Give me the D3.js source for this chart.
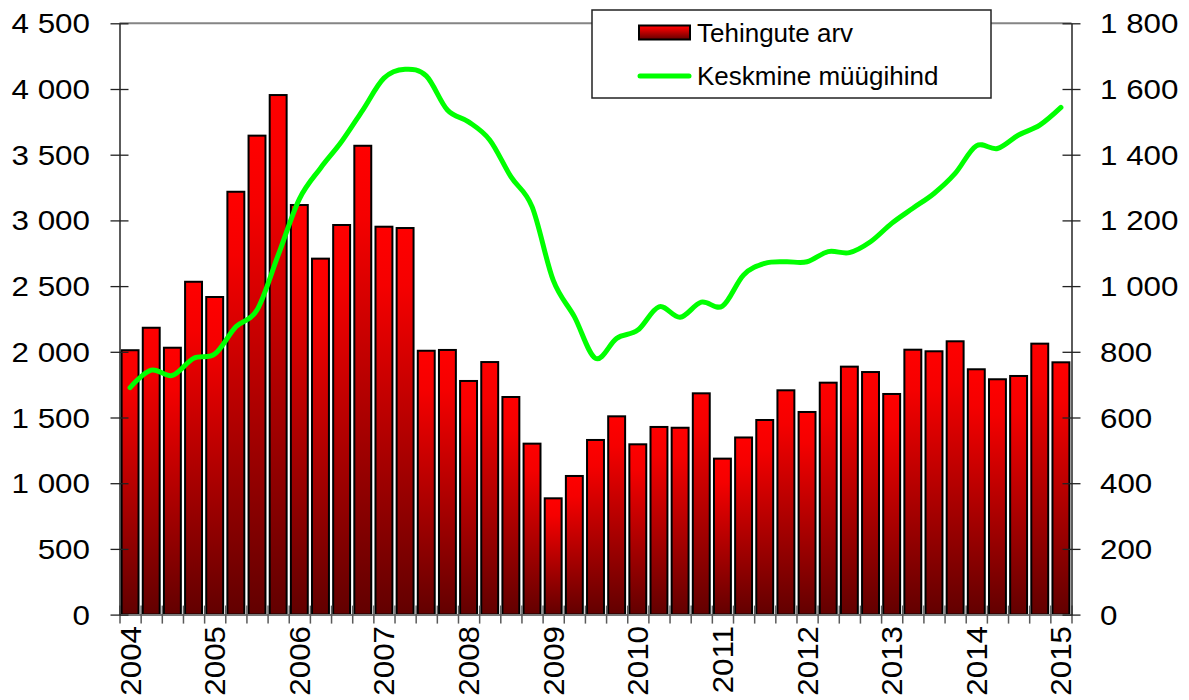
<!DOCTYPE html>
<html><head><meta charset="utf-8">
<script src="https://cdn.jsdelivr.net/npm/d3@7/dist/d3.min.js"></script>
<style>body{margin:0;background:#fff}svg{display:block}text{font-family:"Liberation Sans",Arial,sans-serif;fill:#000}</style>
</head><body><svg id="c" width="1189" height="700"></svg>
<script>
const categories = ["2004Q1","2004Q2","2004Q3","2004Q4","2005Q1","2005Q2","2005Q3","2005Q4",
  "2006Q1","2006Q2","2006Q3","2006Q4","2007Q1","2007Q2","2007Q3","2007Q4",
  "2008Q1","2008Q2","2008Q3","2008Q4","2009Q1","2009Q2","2009Q3","2009Q4",
  "2010Q1","2010Q2","2010Q3","2010Q4","2011Q1","2011Q2","2011Q3","2011Q4",
  "2012Q1","2012Q2","2012Q3","2012Q4","2013Q1","2013Q2","2013Q3","2013Q4",
  "2014Q1","2014Q2","2014Q3","2014Q4","2015Q1"];
const transactions = [2012,2183,2031,2533,2417,3218,3645,3954,3117,2709,2965,3568,2952,2942,2008,2014,
  1778,1922,1656,1301,885,1055,1329,1509,1296,1428,1422,1684,1187,1348,1481,1707,
  1542,1765,1887,1846,1679,2016,2004,2080,1867,1791,1816,2062,1920];
const avgPrice = [691,744,728,780,793,876,927,1094,1265,1359,1440,1536,1633,1660,1640,1536,
  1500,1445,1333,1242,1018,907,780,841,866,937,905,951,939,1034,1069,1074,
  1074,1105,1102,1135,1191,1237,1282,1343,1427,1419,1460,1490,1544];
const yLeftTicks = [0,500,1000,1500,2000,2500,3000,3500,4000,4500];
const yRightTicks = [0,200,400,600,800,1000,1200,1400,1600,1800];
const yearLabels = ["2004","2005","2006","2007","2008","2009","2010","2011","2012","2013","2014","2015"];
const yearTickCats = ["2004Q1","2005Q1","2006Q1","2007Q1","2008Q1","2009Q1","2010Q1","2011Q1","2012Q1","2013Q1","2014Q1","2015Q1"];
const seriesNames = ["Tehingute arv","Keskmine müügihind"];

const svg = d3.select("#c");
const L = 119.5, R = 1071.5, T = 23.3, B = 614.6;

const x = d3.scaleBand().domain(categories).range([L, R]).padding(0);
const xIdx = d3.scaleLinear().domain([0, categories.length]).range([L, R]);
const yL = d3.scaleLinear().domain([0, 4500]).range([B, T]);
const yR = d3.scaleLinear().domain([0, 1800]).range([B, T]);
const fmt = v => d3.format(",")(v).replace(/,/g, " ");

const defs = svg.append("defs");
const g = defs.append("linearGradient").attr("id", "barGrad")
  .attr("x1", 0).attr("y1", 0).attr("x2", 0).attr("y2", 1);
g.append("stop").attr("offset", 0).attr("stop-color", "#ff0000");
g.append("stop").attr("offset", 0.15).attr("stop-color", "#f50000");
g.append("stop").attr("offset", 1).attr("stop-color", "#620000");

// top border
svg.append("line").attr("x1", L).attr("x2", R).attr("y1", T).attr("y2", T)
  .attr("stroke", "#858585").attr("stroke-width", 2);

// bars
const bw = x.bandwidth();
const barW = bw * 0.8;
svg.append("g").selectAll("rect").data(transactions).join("rect")
  .attr("x", (d, i) => x(categories[i]) + (bw - barW) / 2)
  .attr("y", d => yL(d))
  .attr("width", barW)
  .attr("height", d => B - yL(d))
  .attr("fill", "url(#barGrad)")
  .attr("stroke", "#000").attr("stroke-width", 2);

// x axis (tick marks at category boundaries)
const xAxis = svg.append("g").attr("transform", `translate(0,${B})`)
  .call(d3.axisBottom(xIdx).tickValues(d3.range(categories.length + 1)).tickFormat("").tickSizeOuter(0).tickSizeInner(9));
xAxis.select(".domain").attr("stroke", "#7a7a7a").attr("stroke-width", 2);
xAxis.selectAll(".tick line").attr("y1", -9).attr("y2", 9).attr("stroke", "#5a5a5a").attr("stroke-width", 1.5);

// year labels
svg.append("g").selectAll("text").data(yearLabels).join("text")
  .attr("transform", (d, i) => `translate(${x(yearTickCats[i]) + bw / 2 + 10.5},626) rotate(-90) scale(1.08,1)`)
  .attr("text-anchor", "end")
  .style("font-size", "29px")
  .text(d => d);

// left axis
const la = svg.append("g").attr("transform", `translate(${L},0)`)
  .call(d3.axisLeft(yL).tickValues(yLeftTicks).tickFormat("").tickSizeOuter(0).tickSizeInner(9));
la.select(".domain").attr("stroke", "#333").attr("stroke-width", 1.6);
la.selectAll(".tick line").attr("x1", -9).attr("x2", 9).attr("stroke", "#222").attr("stroke-width", 1.3);
svg.append("g").selectAll("text").data(yLeftTicks).join("text")
  .attr("transform", d => `translate(90,${yL(d)}) scale(1.12,1)`)
  .attr("text-anchor", "end").attr("dy", "0.36em")
  .style("font-size", "28px")
  .text(d => fmt(d));

// right axis
const ra = svg.append("g").attr("transform", `translate(${R},0)`)
  .call(d3.axisRight(yR).tickValues(yRightTicks).tickFormat("").tickSizeOuter(0).tickSizeInner(9));
ra.select(".domain").attr("stroke", "#333").attr("stroke-width", 1.6);
ra.selectAll(".tick line").attr("x1", -9).attr("x2", 9).attr("stroke", "#222").attr("stroke-width", 1.3);
svg.append("g").selectAll("text").data(yRightTicks).join("text")
  .attr("transform", d => `translate(1100,${yR(d)}) scale(1.12,1)`)
  .attr("text-anchor", "start").attr("dy", "0.36em")
  .style("font-size", "28px")
  .text(d => fmt(d));

// price line
const line = d3.line()
  .x((d, i) => x(categories[i]) + bw / 2)
  .y(d => yR(d))
  .curve(d3.curveCardinal.tension(0));
svg.append("path").datum(avgPrice).attr("d", line)
  .attr("fill", "none").attr("stroke", "#00ff00").attr("stroke-width", 5)
  .attr("stroke-linecap", "round").attr("stroke-linejoin", "round");

// legend
const lg = svg.append("g");
lg.append("rect").attr("x", 592).attr("y", 10).attr("width", 399).attr("height", 88)
  .attr("fill", "#fff").attr("stroke", "#222").attr("stroke-width", 1.5);
lg.append("rect").attr("x", 639).attr("y", 25.5).attr("width", 51).attr("height", 14)
  .attr("fill", "url(#barGrad)").attr("stroke", "#000").attr("stroke-width", 2);
lg.append("line").attr("x1", 640).attr("x2", 689).attr("y1", 76).attr("y2", 76)
  .attr("stroke", "#00ff00").attr("stroke-width", 5).attr("stroke-linecap", "round");
lg.append("text").attr("x", 697).attr("y", 41.5).style("font-size", "26px").text(seriesNames[0]);
lg.append("text").attr("x", 697).attr("y", 85).style("font-size", "26px").text(seriesNames[1]);
</script></body></html>
